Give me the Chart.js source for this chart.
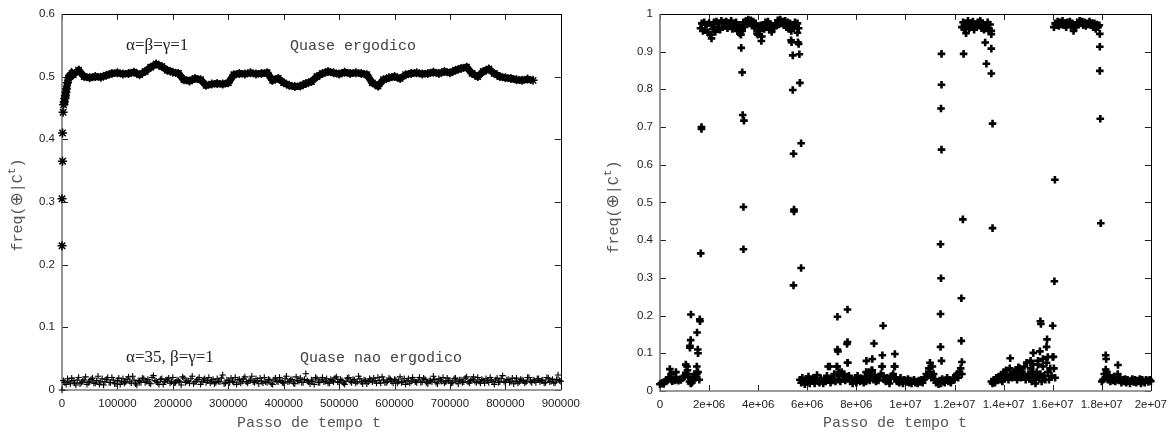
<!DOCTYPE html>
<html>
<head>
<meta charset="utf-8">
<script src="https://cdn.jsdelivr.net/npm/chart.js@4.4.1/dist/chart.umd.min.js"></script>
<style>
  html, body { margin: 0; padding: 0; background: #fff; }
  #wrap { position: relative; width: 1174px; height: 436px; overflow: hidden; }
  canvas { position: absolute; top: 0; }
</style>
</head>
<body>
<div id="wrap">
  <canvas id="left" width="587" height="436" style="left:0px"></canvas>
  <canvas id="right" width="587" height="436" style="left:587px"></canvas>
</div>
<script>
// ================= DATA =================
// ---- Left panel ----
const leftXTicks = ['0','100000','200000','300000','400000','500000','600000','700000','800000','900000'];
const leftYTicks = ['0','0.1','0.2','0.3','0.4','0.5','0.6'];

// alpha=beta=gamma=1 : first samples (t, freq)
const ergEarly = [[0,0.23],[0,0.305],[1000,0.365],[1000,0.41],[2000,0.443]];
// initial rise (t, freq)
const ergRise = [[3000,0.455],[4000,0.46],[5000,0.465],[6000,0.47],[7000,0.475],[8000,0.48],[10000,0.49],[12000,0.498],[14000,0.5],[16000,0.502],[18000,0.505]];
// sampled from t=20000 every 10000 up to 850000
const ergT0 = 20000, ergDt = 10000;
const ergVals = [0.503,0.51,0.5,0.498,0.5,0.499,0.502,0.505,0.506,0.504,
  0.505,0.507,0.503,0.508,0.515,0.52,0.516,0.51,0.507,0.505,
  0.495,0.493,0.497,0.495,0.486,0.488,0.489,0.488,0.49,0.503,
  0.505,0.504,0.506,0.504,0.505,0.506,0.494,0.497,0.49,0.486,
  0.484,0.485,0.489,0.492,0.5,0.505,0.508,0.506,0.504,0.507,
  0.505,0.506,0.505,0.503,0.49,0.485,0.495,0.498,0.5,0.497,
  0.503,0.505,0.506,0.504,0.505,0.507,0.505,0.508,0.506,0.51,
  0.513,0.515,0.505,0.5,0.508,0.512,0.505,0.5,0.498,0.497,
  0.495,0.494,0.496,0.494];

// alpha=35, beta=gamma=1 : sampled every 5000 from 0 to 900000
const nonT0 = 0, nonDt = 5000;
const nonVals = [0.0,0.012,0.018,0.01,0.015,0.008,0.02,0.012,0.016,0.009,
  0.014,0.019,0.011,0.022,0.013,0.008,0.017,0.012,0.02,0.01,
  0.015,0.009,0.018,0.013,0.021,0.011,0.016,0.008,0.014,0.019,
  0.012,0.017,0.01,0.023,0.014,0.009,0.018,0.013,0.016,0.011,
  0.02,0.012,0.015,0.008,0.019,0.014,0.011,0.022,0.013,0.017,
  0.009,0.016,0.012,0.02,0.014,0.01,0.018,0.013,0.024,0.011,
  0.015,0.019,0.012,0.009,0.017,0.014,0.021,0.011,0.016,0.013,
  0.018,0.01,0.014,0.02,0.012,0.016,0.009,0.019,0.013,0.015,
  0.011,0.022,0.014,0.017,0.01,0.015,0.019,0.012,0.026,0.013,
  0.016,0.009,0.018,0.012,0.02,0.014,0.011,0.017,0.013,0.021,
  0.012,0.015,0.009,0.019,0.014,0.017,0.011,0.022,0.013,0.016,
  0.01,0.018,0.013,0.015,0.02,0.011,0.016,0.012,0.019,0.014,
  0.017,0.011,0.021,0.013,0.009,0.018,0.014,0.016,0.012,0.02,
  0.013,0.017,0.01,0.015,0.022,0.012,0.018,0.014,0.011,0.019,
  0.015,0.012,0.019,0.01,0.016,0.013,0.021,0.011,0.017,0.014,
  0.02,0.011,0.015,0.018,0.012,0.016,0.009,0.019,0.013,0.023,
  0.012,0.017,0.014,0.01,0.019,0.013,0.016,0.011,0.02,0.014,
  0.016,0.012,0.018,0.015,0.011,0.02,0.013,0.017,0.012,0.024,
  0.014];
// same run, intermediate samples every 5000 from 2500
const nonT0b = 2500;
const nonValsB = [0.015,0.009,0.013,0.019,0.011,0.016,0.01,0.014,0.021,0.012,
  0.017,0.011,0.015,0.009,0.018,0.013,0.02,0.012,0.016,0.01,
  0.019,0.013,0.011,0.017,0.014,0.022,0.01,0.015,0.012,0.018,
  0.014,0.011,0.02,0.015,0.012,0.017,0.009,0.016,0.019,0.013,
  0.011,0.016,0.013,0.021,0.012,0.015,0.018,0.01,0.014,0.02,
  0.013,0.018,0.015,0.011,0.017,0.012,0.014,0.019,0.01,0.016,
  0.012,0.014,0.02,0.016,0.011,0.018,0.013,0.015,0.022,0.012,
  0.015,0.019,0.011,0.013,0.017,0.01,0.016,0.014,0.02,0.012,
  0.018,0.013,0.016,0.011,0.021,0.014,0.012,0.017,0.015,0.01,
  0.014,0.02,0.012,0.016,0.013,0.018,0.011,0.015,0.019,0.013,
  0.017,0.011,0.014,0.02,0.012,0.016,0.013,0.018,0.01,0.015,
  0.013,0.016,0.019,0.011,0.015,0.021,0.012,0.014,0.017,0.011,
  0.016,0.014,0.012,0.018,0.015,0.011,0.02,0.013,0.016,0.012,
  0.019,0.012,0.015,0.013,0.017,0.01,0.016,0.02,0.013,0.015,
  0.011,0.018,0.014,0.016,0.012,0.019,0.013,0.015,0.021,0.012,
  0.014,0.017,0.011,0.015,0.02,0.013,0.016,0.012,0.018,0.014,
  0.016,0.012,0.019,0.014,0.011,0.017,0.015,0.013,0.02,0.012,
  0.015,0.018,0.013,0.016,0.012,0.019,0.014,0.011,0.017,0.015];

// ---- Right panel ----
const rightXTicks = ['0','2e+06','4e+06','6e+06','8e+06','1e+07','1.2e+07','1.4e+07','1.6e+07','1.8e+07','2e+07'];
const rightYTicks = ['0','0.1','0.2','0.3','0.4','0.5','0.6','0.7','0.8','0.9','1'];
const segDt = 50000;

// low segment 1 : t = 0 .. 1.6e6
const low1T0 = 0;
const low1 = [0.018,0.02,0.022,0.019,0.025,0.03,0.028,0.033,0.035,0.03,0.026,0.032,0.028,0.035,0.03,0.027,0.031,0.029,0.034,0.036,0.04,0.048,0.045,0.038,0.025,0.02,0.022,0.028,0.035,0.04,0.045,0.05,0.03];
const low1Extra = [[4e5,0.058],[4.5e5,0.045],[6.5e5,0.05],[1.05e6,0.07],[1.1e6,0.065],[1.12e6,0.055],[1.26e6,0.203],[1.22e6,0.12],[1.25e6,0.135],[1.22e6,0.115],[1.4e6,0.045],[1.5e6,0.065],[1.51e6,0.155],[1.54e6,0.11],[1.55e6,0.1],[1.62e6,0.19],[1.63e6,0.185],[1.66e6,0.365],[1.69e6,0.7],[1.69e6,0.695]];

// high segment 1 : t = 1.65e6 .. 5.65e6
const high1T0 = 1.65e6;
const high1 = [0.962,0.975,0.955,0.978,0.958,0.972,0.95,0.976,0.945,0.97,
  0.96,0.978,0.952,0.98,0.965,0.975,0.958,0.982,0.966,0.977,
  0.968,0.98,0.962,0.976,0.97,0.982,0.96,0.975,0.965,0.978,
  0.955,0.97,0.948,0.965,0.96,0.978,0.97,0.982,0.972,0.985,
  0.975,0.983,0.97,0.98,0.962,0.975,0.948,0.965,0.955,0.97,
  0.94,0.968,0.96,0.978,0.965,0.98,0.958,0.972,0.952,0.968,
  0.962,0.975,0.97,0.983,0.972,0.985,0.975,0.98,0.97,0.982,
  0.965,0.978,0.96,0.975,0.955,0.97,0.962,0.978,0.968,0.975,
  0.962];
const high1Extra = [[2.1e6,0.935],[3.3e6,0.945],[3.35e6,0.955],[3.31e6,0.91],[3.35e6,0.845],[3.37e6,0.732],[3.42e6,0.717],[3.4e6,0.488],[3.4e6,0.376],[3.99e6,0.945],[4.13e6,0.928],[5.34e6,0.93],[5.36e6,0.925],[5.41e6,0.89],[5.41e6,0.798],[5.44e6,0.629],[5.46e6,0.481],[5.46e6,0.476],[5.44e6,0.28],[5.62e6,0.925],[5.65e6,0.92],[5.6e6,0.95],[5.68e6,0.893],[5.7e6,0.817],[5.75e6,0.657],[5.75e6,0.326]];

// low segment 2 : t = 5.7e6 .. 1.23e7
const low2T0 = 5.7e6;
const low2 = [0.03,0.022,0.035,0.025,0.018,0.032,0.024,0.038,0.02,0.03,
  0.026,0.035,0.02,0.03,0.042,0.025,0.022,0.034,0.028,0.02,
  0.032,0.025,0.04,0.065,0.03,0.022,0.035,0.028,0.045,0.025,
  0.065,0.03,0.04,0.025,0.05,0.032,0.045,0.028,0.035,0.075,
  0.04,0.025,0.032,0.02,0.028,0.035,0.022,0.04,0.03,0.025,
  0.034,0.028,0.022,0.038,0.025,0.03,0.05,0.028,0.04,0.055,
  0.03,0.042,0.025,0.035,0.028,0.038,0.045,0.065,0.04,0.03,
  0.025,0.035,0.028,0.02,0.032,0.04,0.045,0.065,0.035,0.025,
  0.03,0.022,0.035,0.025,0.02,0.03,0.028,0.024,0.032,0.022,
  0.028,0.02,0.026,0.03,0.022,0.025,0.02,0.028,0.024,0.03,
  0.022,0.03,0.035,0.045,0.04,0.06,0.05,0.035,0.04,0.045,
  0.03,0.022,0.025,0.018,0.028,0.02,0.032,0.025,0.022,0.03,
  0.035,0.025,0.03,0.022,0.028,0.035,0.03,0.04,0.045,0.035,
  0.05,0.06,0.045];
const low2Extra = [[6.92e6,0.065],[7.23e6,0.197],[7.23e6,0.11],[7.25e6,0.105],[7.22e6,0.065],[7.3e6,0.05],[7.64e6,0.216],[7.64e6,0.13],[7.62e6,0.125],[7.64e6,0.075],[8.41e6,0.08],[8.4e6,0.05],[8.72e6,0.126],[8.65e6,0.085],[8.62e6,0.055],[9.09e6,0.173],[9.06e6,0.095],[9.05e6,0.065],[9.57e6,0.098],[9.57e6,0.065],[1.1e7,0.075],[1.11e7,0.065],[1.143e7,0.389],[1.145e7,0.299],[1.143e7,0.204],[1.143e7,0.117],[1.147e7,0.08],[1.147e7,0.894],[1.147e7,0.812],[1.145e7,0.749],[1.147e7,0.64],[1.228e7,0.246],[1.228e7,0.133],[1.23e7,0.077],[1.234e7,0.455],[1.237e7,0.894]];

// high segment 2 : t = 1.23e7 .. 1.35e7
const high2T0 = 1.23e7;
const high2 = [0.965,0.978,0.96,0.975,0.97,0.982,0.962,0.976,0.968,0.98,0.958,0.972,0.965,0.978,0.97,0.982,0.962,0.975,0.958,0.97,0.965,0.978,0.96,0.972,0.955];
const high2Extra = [[1.247e7,0.949],[1.325e7,0.924],[1.33e7,0.868],[1.35e7,0.908],[1.35e7,0.842],[1.355e7,0.709],[1.355e7,0.432],[1.35e7,0.946],[1.34e7,0.955]];

// low segment 3 : t = 1.35e7 .. 1.61e7
const low3T0 = 1.35e7;
const low3 = [0.025,0.02,0.03,0.022,0.035,0.028,0.038,0.03,0.042,0.025,
  0.05,0.035,0.055,0.04,0.03,0.06,0.045,0.035,0.05,0.04,
  0.055,0.03,0.045,0.06,0.035,0.05,0.04,0.065,0.03,0.075,
  0.045,0.035,0.06,0.025,0.07,0.04,0.03,0.05,0.08,0.035,
  0.045,0.025,0.065,0.04,0.03,0.075,0.05,0.03,0.06,0.04,
  0.09,0.06,0.035];
const low3Extra = [[1.427e7,0.087],[1.46e7,0.063],[1.47e7,0.055],[1.494e7,0.075],[1.51e7,0.08],[1.521e7,0.101],[1.52e7,0.05],[1.53e7,0.02],[1.54e7,0.07],[1.548e7,0.105],[1.55e7,0.185],[1.552e7,0.178],[1.56e7,0.085],[1.575e7,0.117],[1.577e7,0.137],[1.58e7,0.09],[1.6e7,0.173],[1.603e7,0.091],[1.607e7,0.291],[1.609e7,0.56]];

// high segment 3 : t = 1.605e7 .. 1.79e7
const high3T0 = 1.605e7;
const high3 = [0.965,0.975,0.97,0.98,0.968,0.978,0.972,0.982,0.97,0.976,
  0.965,0.978,0.972,0.98,0.968,0.975,0.955,0.97,0.965,0.978,
  0.972,0.982,0.975,0.98,0.97,0.978,0.968,0.975,0.972,0.98,
  0.97,0.976,0.965,0.975,0.96,0.972,0.965,0.97];
const high3Extra = [[1.792e7,0.947],[1.792e7,0.913],[1.792e7,0.849],[1.794e7,0.722],[1.796e7,0.445]];

// low segment 4 : t = 1.8e7 .. 2e7
const low4T0 = 1.8e7;
const low4 = [0.025,0.03,0.045,0.035,0.05,0.03,0.04,0.025,0.035,0.028,
  0.038,0.025,0.03,0.045,0.028,0.035,0.022,0.03,0.025,0.032,
  0.022,0.03,0.026,0.02,0.028,0.032,0.024,0.03,0.022,0.028,
  0.025,0.032,0.02,0.03,0.025,0.022,0.03,0.028,0.024,0.03,0.026];
const low4Extra = [[1.816e7,0.095],[1.818e7,0.085],[1.816e7,0.057],[1.82e7,0.05],[1.866e7,0.069]];

// texts
const xTitle = 'Passo de tempo t';
const yTitleParts = ['freq(', '\u2295', '|C', 't', ')'];
const labErg = '\u03b1=\u03b2=\u03b3=1';
const labErgTxt = 'Quase ergodico';
const labNon = '\u03b1=35, \u03b2=\u03b3=1';
const labNonTxt = 'Quase nao ergodico';

// ================= BUILD =================
const sampled = (t0, dt, vals) => vals.map((v, i) => ({ x: t0 + i * dt, y: v }));
const pairs = arr => arr.map(p => ({ x: p[0], y: p[1] }));

const MONO = '"Liberation Mono", "DejaVu Sans Mono", monospace';
const SERIF = '"Liberation Serif", "DejaVu Serif", serif';
const SANS = '"Liberation Sans", Arial, sans-serif';

const framePlugin = {
  id: 'frame',
  beforeDatasetsDraw(chart) {
    const { ctx, chartArea: a, scales: { x, y } } = chart;
    ctx.save();
    ctx.lineWidth = 1;
    ctx.strokeStyle = '#222';
    const L = 6;
    ctx.beginPath();
    x.ticks.forEach(t => {
      const px = Math.round(x.getPixelForValue(t.value)) + 0.5;
      ctx.moveTo(px, a.bottom); ctx.lineTo(px, a.bottom - L);
      ctx.moveTo(px, a.top); ctx.lineTo(px, a.top + L);
    });
    y.ticks.forEach(t => {
      const py = Math.round(y.getPixelForValue(t.value)) + 0.5;
      ctx.moveTo(a.left, py); ctx.lineTo(a.left + L, py);
      ctx.moveTo(a.right, py); ctx.lineTo(a.right - L, py);
    });
    ctx.stroke();
    ctx.strokeStyle = '#000';
    ctx.beginPath();
    ctx.moveTo(Math.round(a.left), Math.round(a.top) + 0.5);
    ctx.lineTo(Math.round(a.right) + 0.5, Math.round(a.top) + 0.5);
    ctx.lineTo(Math.round(a.right) + 0.5, Math.round(a.bottom));
    ctx.stroke();
    ctx.strokeStyle = '#7a7a7a';
    ctx.lineWidth = 1.6;
    ctx.beginPath();
    ctx.moveTo(a.left, a.top);
    ctx.lineTo(a.left, a.bottom);
    ctx.lineTo(a.right + 0.5, a.bottom);
    ctx.stroke();
    ctx.restore();
  },
  afterDraw(chart, args, opts) {
    const { ctx } = chart;
    ctx.save();
    ctx.font = '15px ' + MONO;
    ctx.fillStyle = '#555';
    ctx.textAlign = 'center';
    ctx.textBaseline = 'middle';
    ctx.fillText(xTitle, opts.xTitleX, opts.xTitleY);
    ctx.translate(opts.yTitleX, opts.yTitleY);
    ctx.rotate(-Math.PI / 2);
    const fonts = ['15px ' + MONO, '17px "DejaVu Sans", sans-serif', '15px ' + MONO, '11px ' + MONO, '15px ' + MONO];
    const offs = [0, 0, 0, -6, 0];
    const widths = yTitleParts.map((s, i) => { ctx.font = fonts[i]; return ctx.measureText(s).width; });
    let xx = -widths.reduce((p, c) => p + c, 0) / 2;
    ctx.textAlign = 'left';
    yTitleParts.forEach((s, i) => {
      ctx.font = fonts[i];
      ctx.fillText(s, xx, offs[i]);
      xx += widths[i];
    });
    ctx.restore();
    (opts.texts || []).forEach(t => {
      ctx.save();
      ctx.font = t.font;
      ctx.fillStyle = t.color;
      ctx.textAlign = 'left';
      ctx.textBaseline = 'middle';
      ctx.fillText(t.text, t.x, t.y);
      ctx.restore();
    });
  }
};

function baseOptions(cfg) {
  return {
    responsive: false,
    animation: false,
    devicePixelRatio: 1,
    events: [],
    layout: { padding: { top: cfg.padTop, right: cfg.padRight, left: 0, bottom: 0 } },
    plugins: {
      legend: { display: false },
      tooltip: { enabled: false },
      frame: cfg.frame
    },
    scales: {
      x: {
        type: 'linear', min: cfg.xMin, max: cfg.xMax,
        grid: { display: false, drawTicks: false },
        border: { display: false },
        ticks: {
          stepSize: cfg.xStep, autoSkip: false, maxRotation: 0, padding: 7,
          color: '#222', font: { family: SANS, size: 11.5 },
          callback: (v, i) => cfg.xLabels[i]
        },
        afterFit: s => { s.height = cfg.xAxisH; }
      },
      y: {
        type: 'linear', min: cfg.yMin, max: cfg.yMax,
        grid: { display: false, drawTicks: false },
        border: { display: false },
        ticks: {
          stepSize: cfg.yStep, autoSkip: false, padding: 7,
          color: '#222', font: { family: SANS, size: 11.5 },
          callback: (v, i) => cfg.yLabels[i]
        },
        afterFit: s => { s.width = cfg.yAxisW; }
      }
    }
  };
}

// ---- left chart ----
const starPts = { pointStyle: 'star', pointRadius: 4.5, pointBorderWidth: 1.5, borderColor: '#000', backgroundColor: '#000', clip: false };
const thinPlus = { showLine: false, pointStyle: 'cross', pointRadius: 3.2, pointBorderWidth: 1.1, borderColor: '#000', backgroundColor: '#000', clip: false };
new Chart(document.getElementById('left'), {
  type: 'scatter',
  data: {
    datasets: [
      Object.assign({ data: sampled(nonT0, nonDt, nonVals) }, thinPlus),
      Object.assign({ data: sampled(nonT0b, nonDt, nonValsB) }, thinPlus),
      Object.assign({ data: pairs(ergEarly), showLine: false }, starPts),
      Object.assign({ data: pairs(ergRise).concat(sampled(ergT0, ergDt, ergVals)), showLine: true, borderWidth: 7, tension: 0 }, starPts)
    ]
  },
  options: baseOptions({
    padTop: 13, padRight: 21, xAxisH: 46, yAxisW: 62,
    xMin: 0, xMax: 900000, xStep: 100000, xLabels: leftXTicks,
    yMin: 0, yMax: 0.6, yStep: 0.1, yLabels: leftYTicks,
    frame: {
      xTitleX: 309, xTitleY: 423, yTitleX: 18, yTitleY: 205,
      texts: [
        { text: labErg, x: 126, y: 46, font: '17px ' + SERIF, color: '#222' },
        { text: labErgTxt, x: 290, y: 46, font: '15px ' + MONO, color: '#444' },
        { text: labNon, x: 126, y: 358, font: '17px ' + SERIF, color: '#222' },
        { text: labNonTxt, x: 300, y: 358, font: '15px ' + MONO, color: '#444' }
      ]
    }
  }),
  plugins: [framePlugin]
});

// ---- right chart ----
const plusStyle = { showLine: false, pointStyle: 'cross', pointRadius: 3.8, pointBorderWidth: 2.6, borderColor: '#000', backgroundColor: '#000', clip: false };
const rightSeries = [
  sampled(low1T0, segDt, low1), pairs(low1Extra),
  sampled(high1T0, segDt, high1), pairs(high1Extra),
  sampled(low2T0, segDt, low2), pairs(low2Extra),
  sampled(high2T0, segDt, high2), pairs(high2Extra),
  sampled(low3T0, segDt, low3), pairs(low3Extra),
  sampled(high3T0, segDt, high3), pairs(high3Extra),
  sampled(low4T0, segDt, low4), pairs(low4Extra)
];
new Chart(document.getElementById('right'), {
  type: 'scatter',
  data: { datasets: [Object.assign({ data: [].concat(...rightSeries) }, plusStyle)] },
  options: baseOptions({
    padTop: 13, padRight: 21, xAxisH: 45, yAxisW: 73,
    xMin: 0, xMax: 2e7, xStep: 2e6, xLabels: rightXTicks,
    yMin: 0, yMax: 1, yStep: 0.1, yLabels: rightYTicks,
    frame: { xTitleX: 308, xTitleY: 423, yTitleX: 27, yTitleY: 207, texts: [] }
  }),
  plugins: [framePlugin]
});
</script>
</body>
</html>
